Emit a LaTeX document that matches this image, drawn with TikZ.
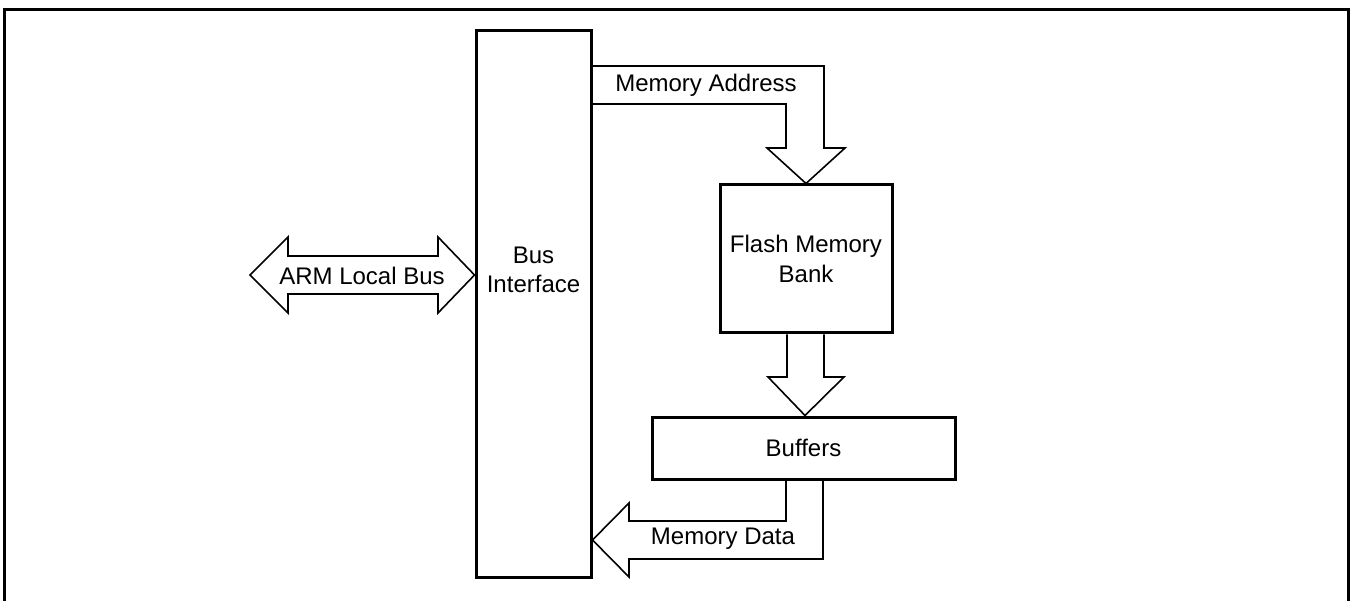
\documentclass[tikz,border=0pt]{standalone}
\usepackage{fontspec}
\setmainfont{Liberation Sans}
\usetikzlibrary{calc}
\tikzset{
  blockbox/.style={draw, line width=3pt, minimum width=#1, inner sep=0pt},
  blockarrow/.style={draw, line width=1.6pt, line join=miter},
  frameline/.style={draw, line width=3pt, line join=miter},
  lbl/.style={font=\fontsize{24}{29.5}\selectfont, align=center, inner sep=0pt},
}
\begin{document}
\begin{tikzpicture}[x=1pt, y=-1pt]
  \useasboundingbox (0,0) rectangle (1351,601);

  % outer frame, open at the bottom
  \draw[frameline] (4,601) -- (4,10) -- (1348,10) -- (1348,601);

  % blocks
  \node[blockbox=115pt, minimum height=546pt] (bus) at (533.5,304) {};
  \node[lbl] (buslbl) at (533.5,270) {Bus\\Interface};
  \node[blockbox=172pt, minimum height=148pt, lbl] (flash) at (806,259) {Flash Memory\\Bank};
  \node[blockbox=303pt, minimum height=62pt, lbl] (buf) at (803.5,448) {Buffers};

  % ARM local bus (two-headed block arrow into the bus interface)
  \draw[blockarrow] (250,275) -- (288,237) -- (288,256) -- (438,256) -- (438,237)
    -- (bus.west |- 0,275) -- (438,313) -- (438,294) -- (288,294) -- (288,313) -- cycle;
  \node[lbl] (armlbl) at (362,276) {ARM Local Bus};

  % memory address: bus interface -> flash bank
  \draw[blockarrow] (bus.east |- 0,66) -- (824,66) -- (824,148) -- (845,148)
    -- (806,0 |- flash.north) -- (767,148) -- (786,148) -- (786,104) -- (bus.east |- 0,104);
  \node[lbl] (addrlbl) at (706,85) {Memory Address};

  % flash bank -> buffers
  \draw[blockarrow] (787,0 |- flash.south) -- (787,377) -- (768,377)
    -- (805,0 |- buf.north) -- (844,377) -- (824,377) -- (824,0 |- flash.south);

  % memory data: buffers -> bus interface
  \draw[blockarrow] (786,0 |- buf.south) -- (786,521) -- (629,521) -- (629,503)
    -- (bus.east |- 0,540) -- (629,577) -- (629,559) -- (823,559) -- (823,0 |- buf.south);
  \node[lbl] (datalbl) at (723,539) {Memory Data};
\end{tikzpicture}
\end{document}
